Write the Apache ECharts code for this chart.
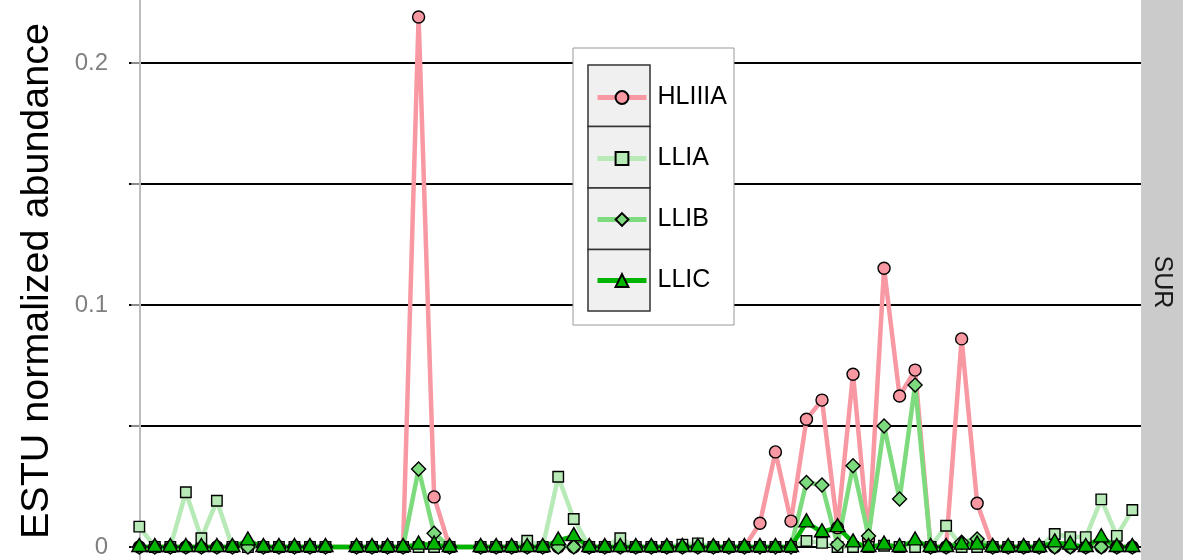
<!DOCTYPE html>
<html>
<head>
<meta charset="utf-8">
<script src="https://cdn.jsdelivr.net/npm/echarts@6.0.0/dist/echarts.min.js"></script>
<style>
  html, body { margin: 0; padding: 0; background: #fff; }
  #root { width: 1183px; height: 560px; }
</style>
</head>
<body>
<div id="root"></div>
<script>
// sample positions 0..64; 13 and 21 have no data
const hliiia = [0, 0, 0, 0, 0, 0, 0, 0, 0, 0,
  0, 0, 0, null, 0, 0, 0, 0, 0.219, 0.0207,
  0, null, 0, 0, 0, 0, 0, 0, 0, 0,
  0, 0, 0, 0, 0, 0, 0, 0, 0, 0,
  0.0098, 0.0393, 0.0107, 0.0528, 0.0607, 0.008, 0.0714, 0.003, 0.1152, 0.0624,
  0.0731, 0, 0, 0.086, 0.0181, 0, 0, 0, 0, 0,
  0, 0, 0, 0, 0];
const llia = [0.0084, 0, 0, 0.0226, 0.0036, 0.0191, 0, 0, 0, 0,
  0, 0, 0, null, 0, 0, 0, 0, 0, 0,
  0, null, 0, 0, 0, 0.0026, 0, 0.029, 0.0116, 0,
  0, 0.0036, 0, 0, 0, 0.001, 0.0015, 0, 0, 0,
  0, 0, 0, 0.0025, 0.0017, 0, 0, 0, 0.0005, 0,
  0, 0, 0.0088, 0, 0, 0, 0, 0, 0, 0.0054,
  0.0041, 0.0041, 0.0197, 0.0046, 0.0153];
const llib = [0, 0, 0, 0, 0, 0, 0, 0, 0, 0,
  0, 0, 0, null, 0, 0, 0, 0, 0.0322, 0.0057,
  0, null, 0, 0, 0, 0, 0, 0, 0, 0,
  0, 0, 0, 0, 0, 0, 0, 0, 0, 0,
  0, 0, 0, 0.0267, 0.0256, 0.001, 0.0336, 0.0045, 0.05, 0.0198,
  0.0669, 0, 0, 0.002, 0.0033, 0, 0, 0, 0, 0,
  0, 0, 0, 0, 0];
const llic = [0, 0, 0, 0, 0, 0, 0, 0.0027, 0, 0,
  0, 0, 0, null, 0, 0, 0, 0, 0.001, 0.001,
  0, null, 0, 0, 0, 0, 0, 0.0027, 0.0045, 0,
  0, 0, 0, 0, 0, 0, 0, 0, 0, 0,
  0, 0, 0, 0.0102, 0.0061, 0.0082, 0.0019, 0, 0.001, 0,
  0.0027, 0, 0, 0.001, 0.001, 0, 0, 0, 0, 0.0019,
  0.001, 0, 0.004, 0, 0];

const groups = [
  { name: 'HLIIIA', values: hliiia, color: '#f898a2', symbol: 'circle', size: 12 },
  { name: 'LLIA', values: llia, color: '#b7eab7', symbol: 'rect', size: 10.5 },
  { name: 'LLIB', values: llib, color: '#7ddb7d', symbol: 'diamond', size: 14 },
  { name: 'LLIC', values: llic, color: '#00b400', symbol: 'triangle', size: [15, 13] }
];

const toPairs = values => values.map((v, i) => [i, v]).filter(p => p[1] !== null);

const lineSeries = groups.map(g => ({
  name: g.name,
  type: 'line',
  data: toPairs(g.values),
  symbol: g.symbol,
  showSymbol: false,
  connectNulls: true,
  silent: true,
  z: 2,
  lineStyle: { color: g.color, width: 4.5 },
  itemStyle: { color: g.color, borderColor: '#000', borderWidth: 1.5 }
}));

const pointSeries = groups.map(g => ({
  name: g.name,
  type: 'scatter',
  data: toPairs(g.values),
  symbol: g.symbol,
  symbolSize: g.size,
  symbolOffset: g.symbol === 'triangle' ? [0, -2] : [0, 0],
  silent: true,
  z: 3,
  itemStyle: { color: g.color, borderColor: '#000', borderWidth: 1.4, opacity: 1 }
}));

const keyBoxes = [0, 1, 2, 3].map(k => ({
  type: 'rect',
  z: 5,
  shape: { x: 588, y: 65 + k * 61.5, width: 62, height: 61.5 },
  style: { fill: '#f0f0f0', stroke: '#333', lineWidth: 1.5 }
}));

const myChart = echarts.init(document.getElementById('root'));

const option = {
  animation: false,
  backgroundColor: '#fff',
  grid: { left: 129, right: 42, top: -58, bottom: -108, outerBoundsMode: 'none', containLabel: false },
  xAxis: {
    type: 'value',
    min: -0.664,
    max: 64.56,
    show: false
  },
  yAxis: {
    type: 'value',
    min: -0.05,
    max: 0.25,
    interval: 0.05,
    name: 'ESTU normalized abundance',
    nameLocation: 'middle',
    nameGap: 72,
    nameTextStyle: { fontFamily: 'Liberation Sans', fontSize: 39.5, color: '#000', padding: [0, 0, 0, 48] },
    axisLine: { show: true, lineStyle: { color: '#bdbdbd', width: 2 } },
    axisTick: { show: true, length: 8, lineStyle: { color: '#8c8c8c', width: 2 } },
    axisLabel: {
      margin: 21,
      fontFamily: 'Liberation Sans',
      fontSize: 24,
      color: '#808080',
      formatter: v => {
        const r = Math.round(v * 10);
        return Math.abs(v * 10 - r) < 1e-6 && r >= 0 && r <= 2 ? String(r / 10) : '';
      }
    },
    splitLine: { show: true, lineStyle: { color: '#000', width: 2 } }
  },
  legend: {
    data: groups.map(g => g.name),
    orient: 'vertical',
    left: 595,
    top: 85,
    padding: 0,
    itemWidth: 49,
    itemHeight: 16,
    itemGap: 36,
    selectedMode: false,
    z: 10,
    lineStyle: { width: 5 },
    textStyle: { fontFamily: 'Liberation Sans', fontSize: 25, color: '#000', padding: [0, 0, 0, 6] }
  },
  graphic: [
    {
      type: 'rect',
      z: 4,
      shape: { x: 573, y: 48, width: 161, height: 277 },
      style: { fill: '#fff', stroke: '#999', lineWidth: 1 }
    },
    ...keyBoxes,
    {
      type: 'rect',
      z: 4,
      shape: { x: 1141, y: 0, width: 42, height: 560 },
      style: { fill: '#cbcbcb' }
    },
    {
      type: 'text',
      z: 5,
      x: 1162,
      y: 282,
      rotation: -Math.PI / 2,
      style: { text: 'SUR', fontFamily: 'Liberation Sans', fontSize: 25, fill: '#1a1a1a', align: 'center', verticalAlign: 'middle' }
    }
  ],
  series: [...lineSeries, ...pointSeries]
};

myChart.setOption(option);

window.onresize = () => myChart.resize();
</script>
</body>
</html>
